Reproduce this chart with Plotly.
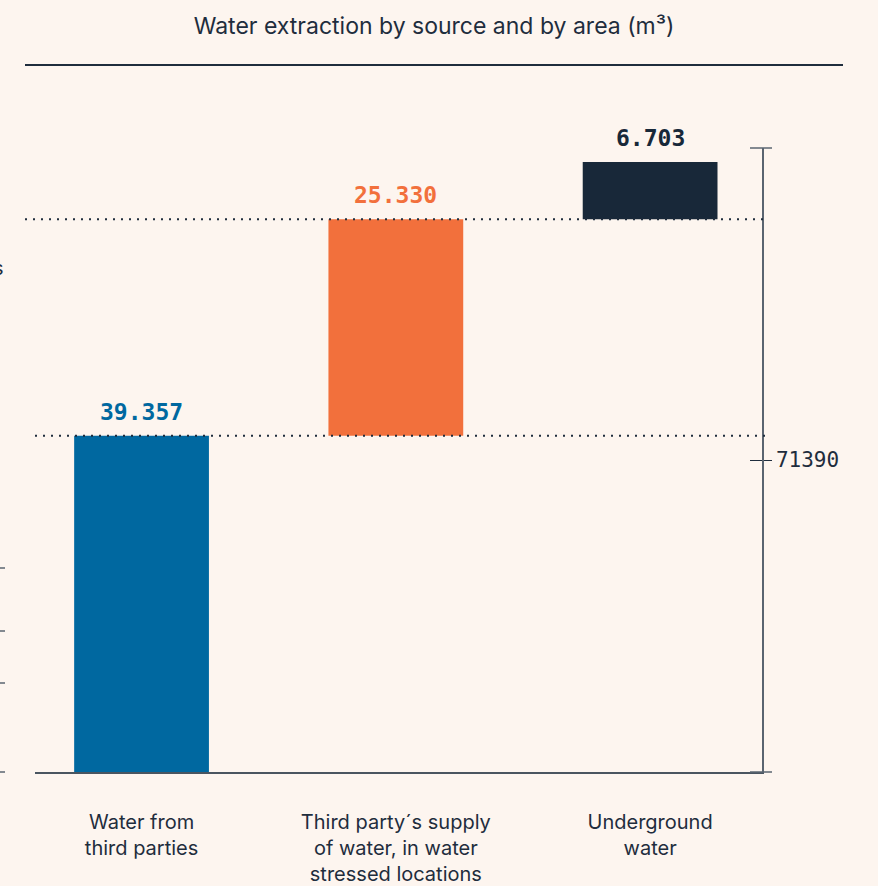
import plotly.graph_objects as go

categories = ["Water from<br>third parties",
              "Third party´s supply<br>of water, in water<br>stressed locations",
              "Underground<br>water"]
values = [39357, 25330, 6703]
bar_colors = ["#0068a0", "#f2703c", "#182839"]
title_text = "Water extraction by source and by area (m³)"

total = sum(values)
bases = []
run = 0
for v in values:
    bases.append(run)
    run += v
labels = [f"{v:,}".replace(",", ".") for v in values]

BG = "#fdf5ef"
DARK = "#1f2d3d"
AX = "#5a6470"

W, H = 878, 886
ml, mr, mt, mb = 35, 116, 148, 114
pw = W - ml - mr
ph = H - mt - mb

def px_x(p):
    return (p - ml) / pw

def px_y(p):
    return (H - mb - p) / ph

ymax = total * ph / 610.0

fig = go.Figure()
fig.add_trace(go.Bar(
    x=list(range(len(values))), y=values, base=bases,
    marker=dict(color=bar_colors, line=dict(width=0)),
    width=0.53, hoverinfo="skip", showlegend=False,
))
# invisible traces to carry the right axes
fig.add_trace(go.Scatter(x=[0], y=[total], yaxis="y2", mode="markers",
                         marker=dict(opacity=0), showlegend=False, hoverinfo="skip"))
fig.add_trace(go.Scatter(x=[0], y=[total], yaxis="y3", mode="markers",
                         marker=dict(opacity=0), showlegend=False, hoverinfo="skip"))

annotations = []
for i, (b, v, lab, c) in enumerate(zip(bases, values, labels, bar_colors)):
    annotations.append(dict(x=i, y=b + v, xref="x", yref="y", text=lab,
                            showarrow=False, xanchor="center", yanchor="bottom", yshift=9,
                            font=dict(family="DejaVu Sans Mono", size=23, color=c, weight="bold")))
annotations.append(dict(text="s", xref="paper", yref="paper", x=px_x(6), y=px_y(268),
                        xanchor="right", yanchor="middle", showarrow=False,
                        font=dict(family="Inter", size=20, color=DARK)))

shapes = []
# dotted connector lines at cumulative levels
for i, lvl in enumerate(bases[1:]):
    shapes.append(dict(type="line", xref="paper", yref="y",
                       x0=px_x(35 if i == 0 else 25), x1=px_x(765), y0=lvl, y1=lvl,
                       line=dict(color=DARK, width=2, dash="2px,6px")))
# right axis end caps
for yy in (0, 1):
    shapes.append(dict(type="line", xref="paper", yref="paper",
                       x0=px_x(750), x1=px_x(772), y0=yy, y1=yy,
                       line=dict(color=AX, width=1.5)))
# partial ticks of the neighbouring chart at the left edge
for py in (568, 631, 683, 772):
    shapes.append(dict(type="line", xref="paper", yref="paper",
                       x0=px_x(0), x1=px_x(5), y0=px_y(py), y1=px_y(py),
                       line=dict(color=AX, width=1.5)))
# title underline
shapes.append(dict(type="line", xref="paper", yref="paper",
                   x0=px_x(25), x1=px_x(843), y0=px_y(65), y1=px_y(65),
                   line=dict(color=DARK, width=2)))

fig.update_layout(
    width=W, height=H,
    margin=dict(l=ml, r=mr, t=mt, b=mb, pad=0, autoexpand=False),
    paper_bgcolor=BG, plot_bgcolor=BG,
    font=dict(family="Inter", color=DARK),
    title=dict(text=title_text, x=434 / W, xref="container", xanchor="center",
               y=1 - 26 / H, yanchor="middle", yref="container",
               font=dict(family="Inter", size=23, color=DARK)),
    xaxis=dict(tickmode="array", tickvals=list(range(len(values))), ticktext=categories,
               range=[-0.419, 2.44], showgrid=False, zeroline=False, automargin=False,
               showline=True, linecolor="#4a5560", linewidth=1.5, ticks="",
               ticklabelstandoff=31,
               tickfont=dict(family="Inter", size=20, color=DARK)),
    yaxis=dict(range=[0, ymax], showgrid=False, zeroline=False, showline=False,
               showticklabels=False, ticks="", automargin=False),
    yaxis2=dict(range=[0, 2 * total], overlaying="y", side="right", anchor="x",
                showgrid=False, zeroline=False, showline=True, linecolor=AX, linewidth=1.5,
                tickmode="array", tickvals=[total], ticktext=[str(total)], automargin=False,
                ticks="outside", ticklen=8, tickcolor=DARK, tickwidth=1.2,
                tickfont=dict(family="DejaVu Sans Mono", size=21, color=DARK)),
    yaxis3=dict(range=[0, 2 * total], overlaying="y", side="right", anchor="x",
                showgrid=False, zeroline=False, showline=False, automargin=False,
                tickmode="array", tickvals=[total], showticklabels=False,
                ticks="inside", ticklen=12, tickcolor=DARK, tickwidth=1.2),
    shapes=shapes,
    annotations=annotations,
)

fig.write_html("out.html")
